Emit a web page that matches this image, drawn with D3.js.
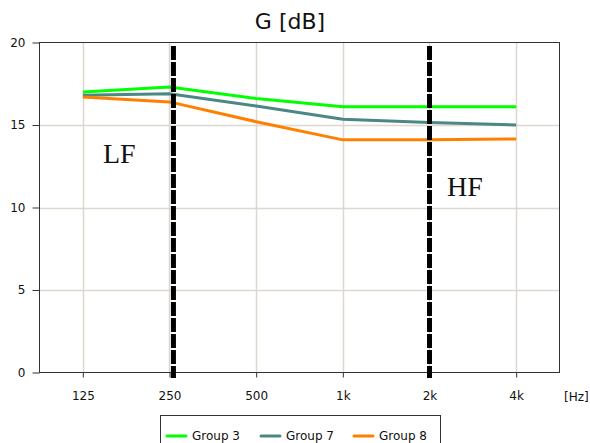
<!DOCTYPE html>
<html><head><meta charset="utf-8">
<script src="https://cdn.jsdelivr.net/npm/d3@7"></script>
<style>body{margin:0;background:#fff}svg{display:block}</style>
</head><body><svg id="c" width="590" height="443"></svg>
<script>
const frequencies = [125, 250, 500, 1000, 2000, 4000];
const tickLabels = ["125", "250", "500", "1k", "2k", "4k"];
const yTicks = [0, 5, 10, 15, 20];
const seriesNames = ["Group 3", "Group 7", "Group 8"];
const group3 = [17.0, 17.3, 16.6, 16.1, 16.1, 16.1];
const group7 = [16.8, 16.9, 16.15, 15.35, 15.15, 15.0];
const group8 = [16.7, 16.4, 15.2, 14.1, 14.1, 14.15];
const seriesColors = ["#00ff00", "#4a8785", "#ff8000"];
const markers = [{f: 258, label: "LF"}, {f: 2000, label: "HF"}];

const svg = d3.select("#c");
const L = 39.5, R = 559.5, T = 42.5, B = 372.5;
const x = d3.scaleLog().base(2).domain([125 / Math.SQRT2, 4000 * Math.SQRT2]).range([L, R]);
const y = d3.scaleLinear().domain([0, 20]).range([B, T]);
const font = "'DejaVu Sans', Verdana, sans-serif";

// gridlines
svg.append("g").selectAll("line").data(frequencies).join("line")
  .attr("x1", d => Math.round(x(d)) + 0.5).attr("x2", d => Math.round(x(d)) + 0.5)
  .attr("y1", T).attr("y2", B).attr("stroke", "#dcd8d0").attr("stroke-width", 1.5);
svg.append("g").selectAll("line").data(yTicks.filter(d => d > 0 && d < 20)).join("line")
  .attr("x1", L).attr("x2", R).attr("y1", d => Math.round(y(d)) + 0.5).attr("y2", d => Math.round(y(d)) + 0.5)
  .attr("stroke", "#dcd8d0").attr("stroke-width", 1.5);

// axes
const yAxis = svg.append("g").attr("transform", `translate(${L},0)`)
  .call(d3.axisLeft(y).tickValues(yTicks).tickSize(7).tickPadding(7).tickFormat(d3.format("d")));
const xAxis = svg.append("g").attr("transform", `translate(0,${B})`)
  .call(d3.axisBottom(x).tickValues(frequencies).tickSize(5).tickPadding(14).tickFormat((d, i) => tickLabels[i]));
[yAxis, xAxis].forEach(a => {
  a.select(".domain").remove();
  a.selectAll("line").attr("stroke", "#333");
  a.selectAll("text").attr("font-family", font).attr("font-size", 12).attr("fill", "#111");
});
svg.append("text").attr("x", 564).attr("y", 401).attr("font-family", font).attr("font-size", 12).attr("fill", "#111").text("[Hz]");

// plot border
svg.append("rect").attr("x", L).attr("y", T).attr("width", R - L).attr("height", B - T)
  .attr("fill", "none").attr("stroke", "#333").attr("stroke-width", 1);

// series
const series = [group3, group7, group8];
const line = d3.line().x((d, i) => x(frequencies[i])).y(d => y(d));
svg.append("g").selectAll("path").data(series).join("path")
  .attr("d", d => line(d)).attr("fill", "none")
  .attr("stroke", (d, i) => seriesColors[i]).attr("stroke-width", 3);

// dashed markers
svg.append("g").selectAll("line").data(markers).join("line")
  .attr("x1", d => x(d.f)).attr("x2", d => x(d.f)).attr("y1", 46).attr("y2", 378)
  .attr("stroke", "#000").attr("stroke-width", 5).attr("stroke-dasharray", "14,2");

svg.append("text").attr("x", 103).attr("y", 163).attr("font-family", "'Liberation Serif', 'Times New Roman', serif")
  .attr("font-size", 28).attr("fill", "#111").text(markers[0].label);
svg.append("text").attr("x", 447).attr("y", 196).attr("font-family", "'Liberation Serif', 'Times New Roman', serif")
  .attr("font-size", 28).attr("fill", "#111").text(markers[1].label);

// title
svg.append("text").attr("x", 290).attr("y", 29).attr("text-anchor", "middle")
  .attr("font-family", font).attr("font-size", 22).attr("fill", "#111").text("G [dB]");

// legend
const lg = svg.append("g");
lg.append("rect").attr("x", 160.5).attr("y", 415.5).attr("width", 280).attr("height", 40)
  .attr("fill", "#fff").attr("stroke", "#333");
const legX = [167, 261, 354];
seriesNames.forEach((n, i) => {
  lg.append("line").attr("x1", legX[i]).attr("x2", legX[i] + 19).attr("y1", 436).attr("y2", 436)
    .attr("stroke", seriesColors[i]).attr("stroke-width", 3).attr("stroke-linecap", "round");
  lg.append("text").attr("x", legX[i] + 25).attr("y", 440).attr("font-family", font).attr("font-size", 12)
    .attr("fill", "#111").text(n);
});
</script></body></html>
